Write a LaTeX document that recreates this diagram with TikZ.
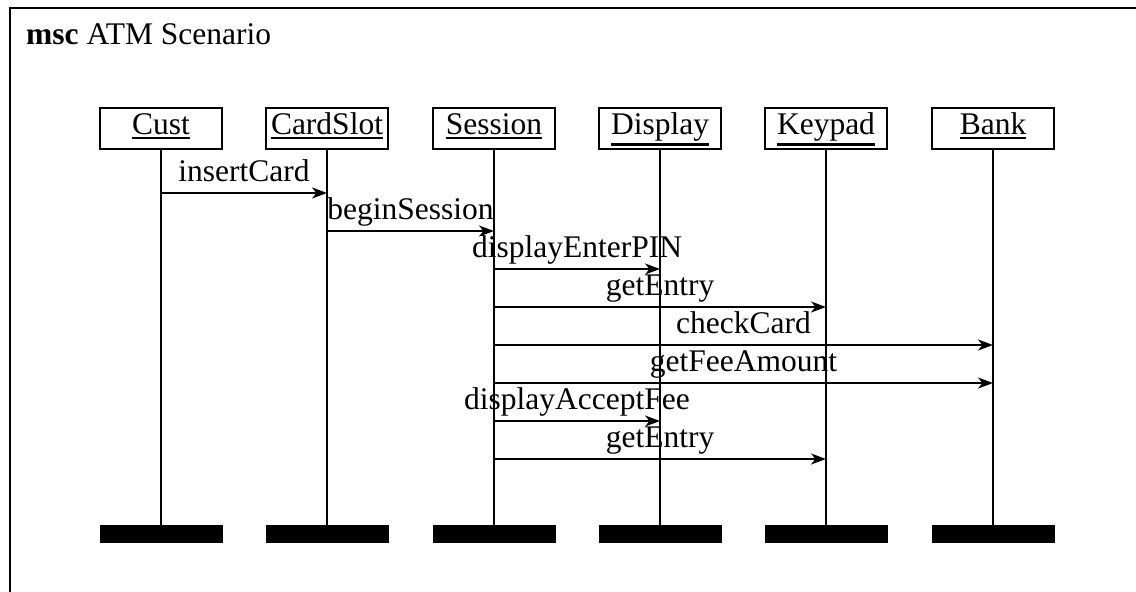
\documentclass[tikz,border=0pt]{standalone}
\usepackage{fontspec}
\setmainfont{Liberation Serif}
\usetikzlibrary{arrows.meta}

% name of an instance, underlined below its descenders
\newcommand{\objname}[1]{{\setbox0\hbox{#1}\rlap{\rule[-\dimexpr\dp0+4.5pt\relax]{\wd0}{2.5pt}}\box0}}

\tikzset{
  every node/.style={font=\fontsize{31.5}{37}\selectfont},
  inst/.style={draw, line width=2pt, inner sep=0pt, minimum width=122pt,
    text height=26.5pt, text depth=14.5pt, anchor=north},
  stopbar/.style={fill=black, draw=black, line width=0.6pt, inner sep=0pt,
    minimum width=122pt, minimum height=17pt, anchor=north},
  lifeline/.style={line width=2pt},
  msg/.style={line width=2pt, -{Stealth[length=15pt,width=11pt,inset=4.5pt]}},
  lbl/.style={midway, anchor=base, yshift=12pt, inner sep=0pt},
}

\begin{document}
\begin{tikzpicture}[x=1pt, y=-1pt]
  \useasboundingbox (0,0) rectangle (1136,592);
  \clip (0,0) rectangle (1136,592);

  % outer frame of the chart
  \draw[line width=2pt] (10,8) rectangle (1200,660);
  \node[anchor=base west, inner sep=0pt] (title) at (26,44) {\textbf{msc} ATM Scenario};

  % instance heads
  \node[inst] (cust)    at (161,107) {\objname{Cust}};
  \node[inst] (slot)    at (327,107) {\objname{CardSlot}};
  \node[inst] (session) at (494,107) {\objname{Session}};
  \node[inst] (display) at (660,107) {\objname{Display}};
  \node[inst] (keypad)  at (826,107) {\objname{Keypad}};
  \node[inst] (bank)    at (993,107) {\objname{Bank}};

  % instance ends
  \node[stopbar] (custEnd)    at (161,525) {};
  \node[stopbar] (slotEnd)    at (327,525) {};
  \node[stopbar] (sessionEnd) at (494,525) {};
  \node[stopbar] (displayEnd) at (660,525) {};
  \node[stopbar] (keypadEnd)  at (826,525) {};
  \node[stopbar] (bankEnd)    at (993,525) {};

  % lifelines
  \draw[lifeline] (cust.south)    -- (custEnd.north);
  \draw[lifeline] (slot.south)    -- (slotEnd.north);
  \draw[lifeline] (session.south) -- (sessionEnd.north);
  \draw[lifeline] (display.south) -- (displayEnd.north);
  \draw[lifeline] (keypad.south)  -- (keypadEnd.north);
  \draw[lifeline] (bank.south)    -- (bankEnd.north);

  % messages
  \draw[msg] (cust.south |- 0,193)    -- (slot.south |- 0,193)    node[lbl] {insertCard};
  \draw[msg] (slot.south |- 0,231)    -- (session.south |- 0,231) node[lbl] {beginSession};
  \draw[msg] (session.south |- 0,269) -- (display.south |- 0,269) node[lbl] {displayEnterPIN};
  \draw[msg] (session.south |- 0,307) -- (keypad.south |- 0,307)  node[lbl] {getEntry};
  \draw[msg] (session.south |- 0,345) -- (bank.south |- 0,345)    node[lbl] {checkCard};
  \draw[msg] (session.south |- 0,383) -- (bank.south |- 0,383)    node[lbl] {getFeeAmount};
  \draw[msg] (session.south |- 0,421) -- (display.south |- 0,421) node[lbl] {displayAcceptFee};
  \draw[msg] (session.south |- 0,459) -- (keypad.south |- 0,459)  node[lbl] {getEntry};
\end{tikzpicture}
\end{document}
